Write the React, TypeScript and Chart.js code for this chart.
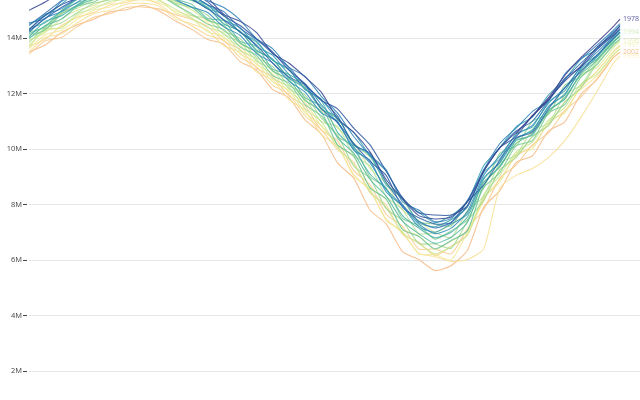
import React, { useEffect, useRef } from "react";
import { Chart, registerables } from "chart.js";

Chart.register(...registerables);

// Day of year for each sample
const days = [1, 11, 21, 31, 41, 51, 61, 71, 81, 91, 101, 111, 121, 131, 141, 151, 161, 171, 181, 191, 201, 211, 221, 231, 241, 251, 261, 271, 281, 291, 301, 311, 321, 331, 341, 351, 361, 365];

const years = [1978, 1979, 1980, 1981, 1982, 1983, 1984, 1985, 1986, 1987, 1988, 1989, 1990, 1991, 1992, 1993, 1994, 1995, 1996, 1997, 1998, 1999, 2000, 2001, 2002];

const yTickValues = [2, 4, 6, 8, 10, 12, 14];
const labeledYears = [1978, 1994, 1996, 1997, 1999, 2002];

// Extent in millions of km²
const s1978 = [null, null, null, null, null, null, null, null, null, null, null, null, null, null, null, null, null, null, null, null, null, null, null, null, null, null, null, null, null, null, 10.55, 11.2, 11.85, 12.65, 13.3, 13.85, 14.42, 14.68];
const s1979 = [15.0, 15.3, 15.65, 15.9, 16.1, 16.3, 16.45, 16.5, 16.3, 16.05, 15.8, 15.45, 14.85, 14.6, 14.2, 13.45, 13.1, 12.6, 12.05, 11.1, 10.6, 9.9, 8.9, 8.2, 7.6, 7.48, 7.55, 8.1, 9.2, 10.05, 10.6, 11.18, 11.8, 12.45, 13.0, 13.68, 14.15, 14.45];
const s1980 = [14.3, 14.82, 15.2, 15.45, 15.8, 15.9, 16.15, 16.1, 16.05, 15.7, 15.68, 15.3, 14.8, 14.45, 13.98, 13.5, 12.85, 12.35, 11.75, 11.45, 10.75, 10.15, 9.2, 8.25, 7.7, 7.62, 7.62, 7.95, 9.2, 10.05, 10.45, 11.2, 11.75, 12.55, 12.95, 13.6, 14.1, 14.35];
const s1981 = [14.25, 14.7, 15.1, 15.42, 15.55, 15.88, 15.9, 16.08, 15.8, 15.62, 15.4, 15.05, 14.65, 14.22, 13.75, 13.1, 12.6, 12.3, 11.45, 10.95, 10.2, 9.55, 9.05, 7.9, 7.52, 7.3, 7.35, 8.1, 8.7, 9.6, 10.4, 10.6, 11.45, 12.2, 12.8, 13.4, 14.0, 14.22];
const s1982 = [14.45, 14.9, 15.35, 15.8, 15.95, 16.25, 16.3, 16.45, 16.2, 15.9, 15.55, 15.2, 14.95, 14.35, 13.95, 13.45, 12.95, 12.3, 11.78, 11.2, 10.15, 9.85, 8.8, 8.0, 7.4, 7.15, 7.35, 7.95, 9.2, 10.05, 10.65, 11.0, 11.75, 12.5, 13.1, 13.65, 14.22, 14.42];
const s1983 = [14.55, 14.7, 15.32, 15.58, 15.92, 16.02, 16.25, 16.22, 16.18, 15.95, 15.8, 15.35, 15.1, 14.65, 13.98, 13.62, 12.95, 12.62, 11.9, 11.3, 10.45, 9.78, 9.25, 8.1, 7.8, 7.38, 7.5, 8.15, 9.25, 10.2, 10.75, 11.35, 11.75, 12.7, 13.25, 13.75, 14.28, 14.52];
const s1984 = [14.2, 14.72, 14.95, 15.3, 15.65, 15.78, 16.02, 15.98, 15.92, 15.4, 15.12, 14.92, 14.4, 14.1, 13.45, 13.1, 12.45, 12.05, 11.3, 11.0, 9.95, 9.6, 8.45, 7.95, 7.3, 6.95, 7.15, 7.75, 9.05, 9.75, 10.5, 10.85, 11.65, 12.2, 12.95, 13.5, 14.05, 14.3];
const s1985 = [14.3, 14.85, 15.05, 15.45, 15.78, 15.9, 16.12, 16.1, 16.05, 15.68, 15.5, 15.2, 14.65, 14.38, 13.7, 13.38, 12.7, 12.35, 11.6, 10.95, 10.05, 9.5, 8.55, 7.95, 7.2, 7.0, 7.3, 7.65, 8.95, 9.5, 10.4, 10.65, 11.55, 11.95, 12.9, 13.35, 14.1, 14.3];
const s1986 = [14.5, 14.8, 15.22, 15.68, 15.82, 16.1, 16.18, 16.32, 16.08, 15.75, 15.42, 15.05, 14.85, 14.2, 13.9, 13.2, 12.88, 12.15, 11.8, 11.05, 10.6, 9.75, 9.2, 8.2, 7.72, 7.35, 7.6, 8.1, 9.4, 10.05, 10.8, 11.15, 11.95, 12.5, 13.25, 13.6, 14.2, 14.45];
const s1987 = [14.05, 14.6, 14.8, 15.2, 15.52, 15.65, 15.88, 15.85, 15.8, 15.55, 15.38, 15.1, 14.5, 14.25, 13.55, 13.25, 12.55, 12.2, 11.45, 11.15, 10.15, 9.8, 8.7, 8.25, 7.35, 7.2, 7.45, 7.9, 9.15, 9.65, 10.55, 10.8, 11.7, 12.1, 13.0, 13.38, 13.95, 14.18];
const s1988 = [14.35, 14.55, 14.98, 15.4, 15.58, 15.85, 15.92, 16.05, 15.85, 15.75, 15.42, 15.18, 14.8, 14.2, 13.85, 13.2, 12.85, 12.15, 11.75, 10.6, 10.0, 9.1, 8.55, 7.6, 7.15, 6.8, 7.0, 7.55, 8.8, 9.35, 10.3, 10.5, 11.4, 11.8, 12.75, 13.32, 14.0, 14.2];
const s1989 = [13.98, 14.45, 14.68, 15.15, 15.4, 15.5, 15.75, 15.72, 15.68, 15.4, 15.22, 14.7, 14.62, 13.88, 13.7, 12.88, 12.68, 11.85, 11.55, 10.4, 9.85, 8.9, 8.3, 7.4, 6.95, 6.6, 6.82, 7.35, 8.9, 9.55, 10.35, 10.7, 11.5, 12.0, 12.85, 13.25, 13.88, 14.05];
const s1990 = [14.15, 14.42, 14.98, 15.28, 15.45, 15.72, 15.8, 15.95, 15.7, 15.35, 15.12, 14.65, 14.45, 13.82, 13.5, 12.82, 12.5, 11.75, 11.35, 10.15, 9.75, 8.6, 8.2, 7.1, 6.85, 6.4, 6.7, 7.05, 8.7, 9.4, 10.2, 10.55, 11.35, 11.85, 12.7, 13.2, 13.85, 14.1];
const s1991 = [14.02, 14.3, 14.85, 15.15, 15.3, 15.6, 15.65, 15.82, 15.58, 15.2, 14.88, 14.5, 14.3, 13.68, 13.38, 12.65, 12.38, 11.6, 11.2, 10.45, 10.1, 9.0, 8.6, 7.5, 7.25, 6.75, 7.05, 7.45, 8.6, 9.15, 10.12, 10.3, 11.3, 11.6, 12.6, 13.05, 13.78, 13.95];
const s1992 = [14.22, 14.38, 14.92, 15.18, 15.52, 15.65, 15.86, 15.88, 15.78, 15.52, 15.35, 15.1, 14.52, 14.25, 13.58, 13.22, 12.58, 12.25, 11.45, 11.1, 10.2, 9.72, 8.78, 8.18, 7.38, 7.3, 7.22, 8.1, 8.6, 9.85, 10.1, 11.0, 11.25, 12.3, 12.6, 13.22, 13.84, 14.08];
const s1993 = [13.85, 14.35, 14.55, 14.92, 15.25, 15.38, 15.6, 15.62, 15.52, 15.25, 15.1, 14.82, 14.25, 13.98, 13.3, 12.98, 12.3, 11.95, 11.12, 10.5, 9.38, 8.95, 7.85, 7.42, 6.6, 6.58, 6.42, 7.4, 8.15, 9.25, 9.7, 10.45, 10.85, 11.7, 12.2, 13.1, 13.72, 13.96];
const s1994 = [14.12, 14.28, 14.9, 15.08, 15.38, 15.52, 15.72, 15.75, 15.66, 15.25, 14.82, 14.68, 14.12, 13.85, 13.18, 12.85, 12.18, 11.82, 10.98, 10.82, 9.78, 9.38, 8.28, 7.82, 6.95, 6.98, 6.8, 7.78, 8.28, 9.5, 9.78, 10.68, 10.92, 11.95, 12.3, 13.2, 13.95, 14.22];
const s1995 = [13.68, 14.32, 14.35, 14.88, 15.05, 15.32, 15.4, 15.56, 15.35, 15.05, 14.72, 14.38, 14.18, 13.55, 13.25, 12.55, 12.25, 11.45, 11.0, 10.05, 9.45, 8.48, 7.88, 6.98, 6.6, 6.22, 6.48, 6.88, 8.35, 9.05, 9.9, 10.25, 11.05, 11.5, 12.35, 12.7, 13.4, 13.6];
const s1996 = [13.92, 14.2, 14.7, 15.0, 15.18, 15.45, 15.52, 15.68, 15.45, 15.32, 15.02, 14.62, 14.42, 13.8, 13.5, 12.8, 12.5, 11.75, 11.4, 10.75, 10.22, 9.3, 8.75, 7.8, 7.42, 7.0, 7.28, 7.7, 8.78, 9.35, 10.2, 10.55, 11.35, 11.82, 12.68, 12.95, 13.65, 13.88];
const s1997 = [13.75, 14.25, 14.4, 14.8, 15.12, 15.25, 15.48, 15.5, 15.4, 14.92, 14.72, 14.22, 14.05, 13.42, 13.12, 12.42, 12.12, 11.3, 10.85, 10.15, 9.72, 8.62, 8.18, 7.12, 6.88, 6.38, 6.68, 7.05, 8.25, 8.8, 9.85, 10.0, 11.0, 11.3, 12.28, 12.8, 13.52, 13.75];
const s1998 = [13.62, 14.12, 14.28, 14.68, 15.0, 15.12, 15.35, 15.38, 15.28, 14.98, 14.8, 14.55, 13.98, 13.72, 13.05, 12.72, 12.05, 11.68, 10.82, 10.15, 9.02, 8.55, 7.42, 7.02, 6.22, 6.2, 6.0, 7.0, 8.12, 9.25, 9.72, 10.45, 10.85, 11.7, 12.15, 12.65, 13.4, 13.62];
const s1999 = [13.5, 14.02, 14.15, 14.55, 14.88, 15.0, 15.22, 15.25, 15.15, 14.7, 14.52, 14.28, 13.72, 13.48, 12.78, 12.5, 11.78, 11.4, 10.52, 10.1, 9.08, 8.5, 7.48, 6.98, 6.25, 6.12, 5.95, 6.02, 6.4, 8.6, 9.05, 9.3, 9.7, 10.3, 11.15, 12.1, 13.1, 13.35];
const s2000 = [13.7, 13.95, 14.45, 14.75, 14.92, 15.2, 15.28, 15.42, 15.22, 14.78, 14.45, 14.1, 13.92, 13.3, 12.98, 12.3, 11.98, 11.2, 10.7, 9.98, 9.52, 8.42, 7.98, 6.92, 6.65, 6.15, 6.5, 6.92, 8.2, 8.9, 9.75, 10.1, 10.92, 11.38, 12.22, 12.82, 13.5, 13.72];
const s2001 = [13.42, 13.9, 14.02, 14.42, 14.75, 14.88, 15.1, 15.12, 15.05, 14.85, 14.68, 14.42, 13.88, 13.6, 12.92, 12.6, 11.92, 11.55, 10.68, 10.3, 9.22, 8.72, 7.65, 7.22, 6.4, 6.4, 6.22, 7.12, 7.82, 8.95, 9.42, 10.15, 10.58, 11.38, 11.88, 12.55, 13.3, 13.5];
const s2002 = [13.5, 13.75, 14.2, 14.48, 14.68, 14.95, 15.02, 15.18, 14.98, 14.62, 14.32, 13.95, 13.78, 13.15, 12.85, 12.15, 11.85, 11.05, 10.55, 9.5, 8.95, 7.8, 7.3, 6.3, 6.02, 5.62, 5.8, 6.35, 7.9, 8.5, 9.52, 9.75, 10.65, 10.98, 11.98, 12.52, 13.3, 13.48];

const series: (number | null)[][] = [s1978, s1979, s1980, s1981, s1982, s1983, s1984, s1985, s1986, s1987, s1988, s1989, s1990, s1991, s1992, s1993, s1994, s1995, s1996, s1997, s1998, s1999, s2000, s2001, s2002];

// colour ramp (dark indigo -> blue -> teal -> green -> yellow -> orange)
const stops: [number, number[]][] = [
  [0.0, [61, 58, 134]],
  [0.1, [46, 90, 166]],
  [0.22, [43, 131, 186]],
  [0.35, [58, 165, 179]],
  [0.48, [93, 191, 152]],
  [0.6, [149, 211, 143]],
  [0.72, [205, 232, 150]],
  [0.83, [244, 233, 150]],
  [0.92, [250, 212, 143]],
  [1.0, [246, 187, 136]],
];

function rampColor(t: number, alpha: number): string {
  for (let i = 1; i < stops.length; i++) {
    const [t1, c1] = stops[i];
    const [t0, c0] = stops[i - 1];
    if (t <= t1) {
      const f = (t - t0) / (t1 - t0);
      const c = c0.map((v, j) => Math.round(v + (c1[j] - v) * f));
      return `rgba(${c[0]},${c[1]},${c[2]},${alpha})`;
    }
  }
  const c = stops[stops.length - 1][1];
  return `rgba(${c[0]},${c[1]},${c[2]},${alpha})`;
}

const yearColor = (i: number, a: number) => rampColor(i / (years.length - 1), a);

const endLabels = {
  id: "endLabels",
  afterDatasetsDraw(chart: any) {
    const ctx = chart.ctx;
    ctx.save();
    ctx.font = '7px "Open Sans"';
    ctx.textBaseline = "middle";
    ctx.textAlign = "left";
    chart.data.datasets.forEach((ds: any, i: number) => {
      const yr = years[i];
      if (!labeledYears.includes(yr)) return;
      const meta = chart.getDatasetMeta(i);
      const pts = meta.data;
      if (!pts.length) return;
      const p = pts[pts.length - 1];
      ctx.fillStyle = yr === 1978 ? yearColor(i, 0.85) : yearColor(i, yr === 2002 ? 0.9 : 0.6);
      ctx.fillText(String(yr), p.x + 3, p.y);
    });
    ctx.restore();
  },
};

export default function App() {
  const ref = useRef<HTMLCanvasElement | null>(null);

  useEffect(() => {
    document.body.style.margin = "0";
    const canvas = ref.current;
    if (!canvas) return;
    const datasets = series.map((s, i) => ({
      label: String(years[i]),
      data: days
        .map((d, k) => ({ x: d, y: s[k] }))
        .filter((p) => p.y !== null),
      borderColor: yearColor(i, 0.88),
      backgroundColor: yearColor(i, 0.88),
      borderWidth: 1.05,
      pointRadius: 0,
      tension: 0.2,
      fill: false,
    }));
    const chart = new Chart(canvas, {
      type: "line",
      data: { datasets },
      options: {
        animation: false,
        responsive: false,
        devicePixelRatio: 1,
        layout: { padding: 0 },
        plugins: { legend: { display: false }, tooltip: { enabled: false } },
        scales: {
          x: { type: "linear", min: 1, max: 377.3, display: false },
          y: {
            type: "linear",
            min: 0.955,
            max: 15.37,
            afterBuildTicks: (s: any) => {
              s.ticks = yTickValues.map((v) => ({ value: v }));
            },
            afterFit: (s: any) => {
              s.width = 29;
              s.paddingTop = 0;
              s.paddingBottom = 0;
            },
            ticks: {
              callback: (v: any) => `${v}M`,
              font: { family: "Open Sans", size: 7.5 },
              color: "#444",
              padding: 1,
            },
            grid: {
              color: "#e6e6e6",
              lineWidth: 1,
              drawTicks: true,
              tickLength: 6,
              tickColor: "#444",
              tickBorderDash: [4, 20],
            },
            border: { display: false },
          },
        },
      },
      plugins: [endLabels],
    } as any);
    return () => chart.destroy();
  }, []);

  return (
    <div style={{ width: 640, height: 400 }}>
      <canvas ref={ref} width={640} height={400} style={{ display: "block" }} />
    </div>
  );
}
